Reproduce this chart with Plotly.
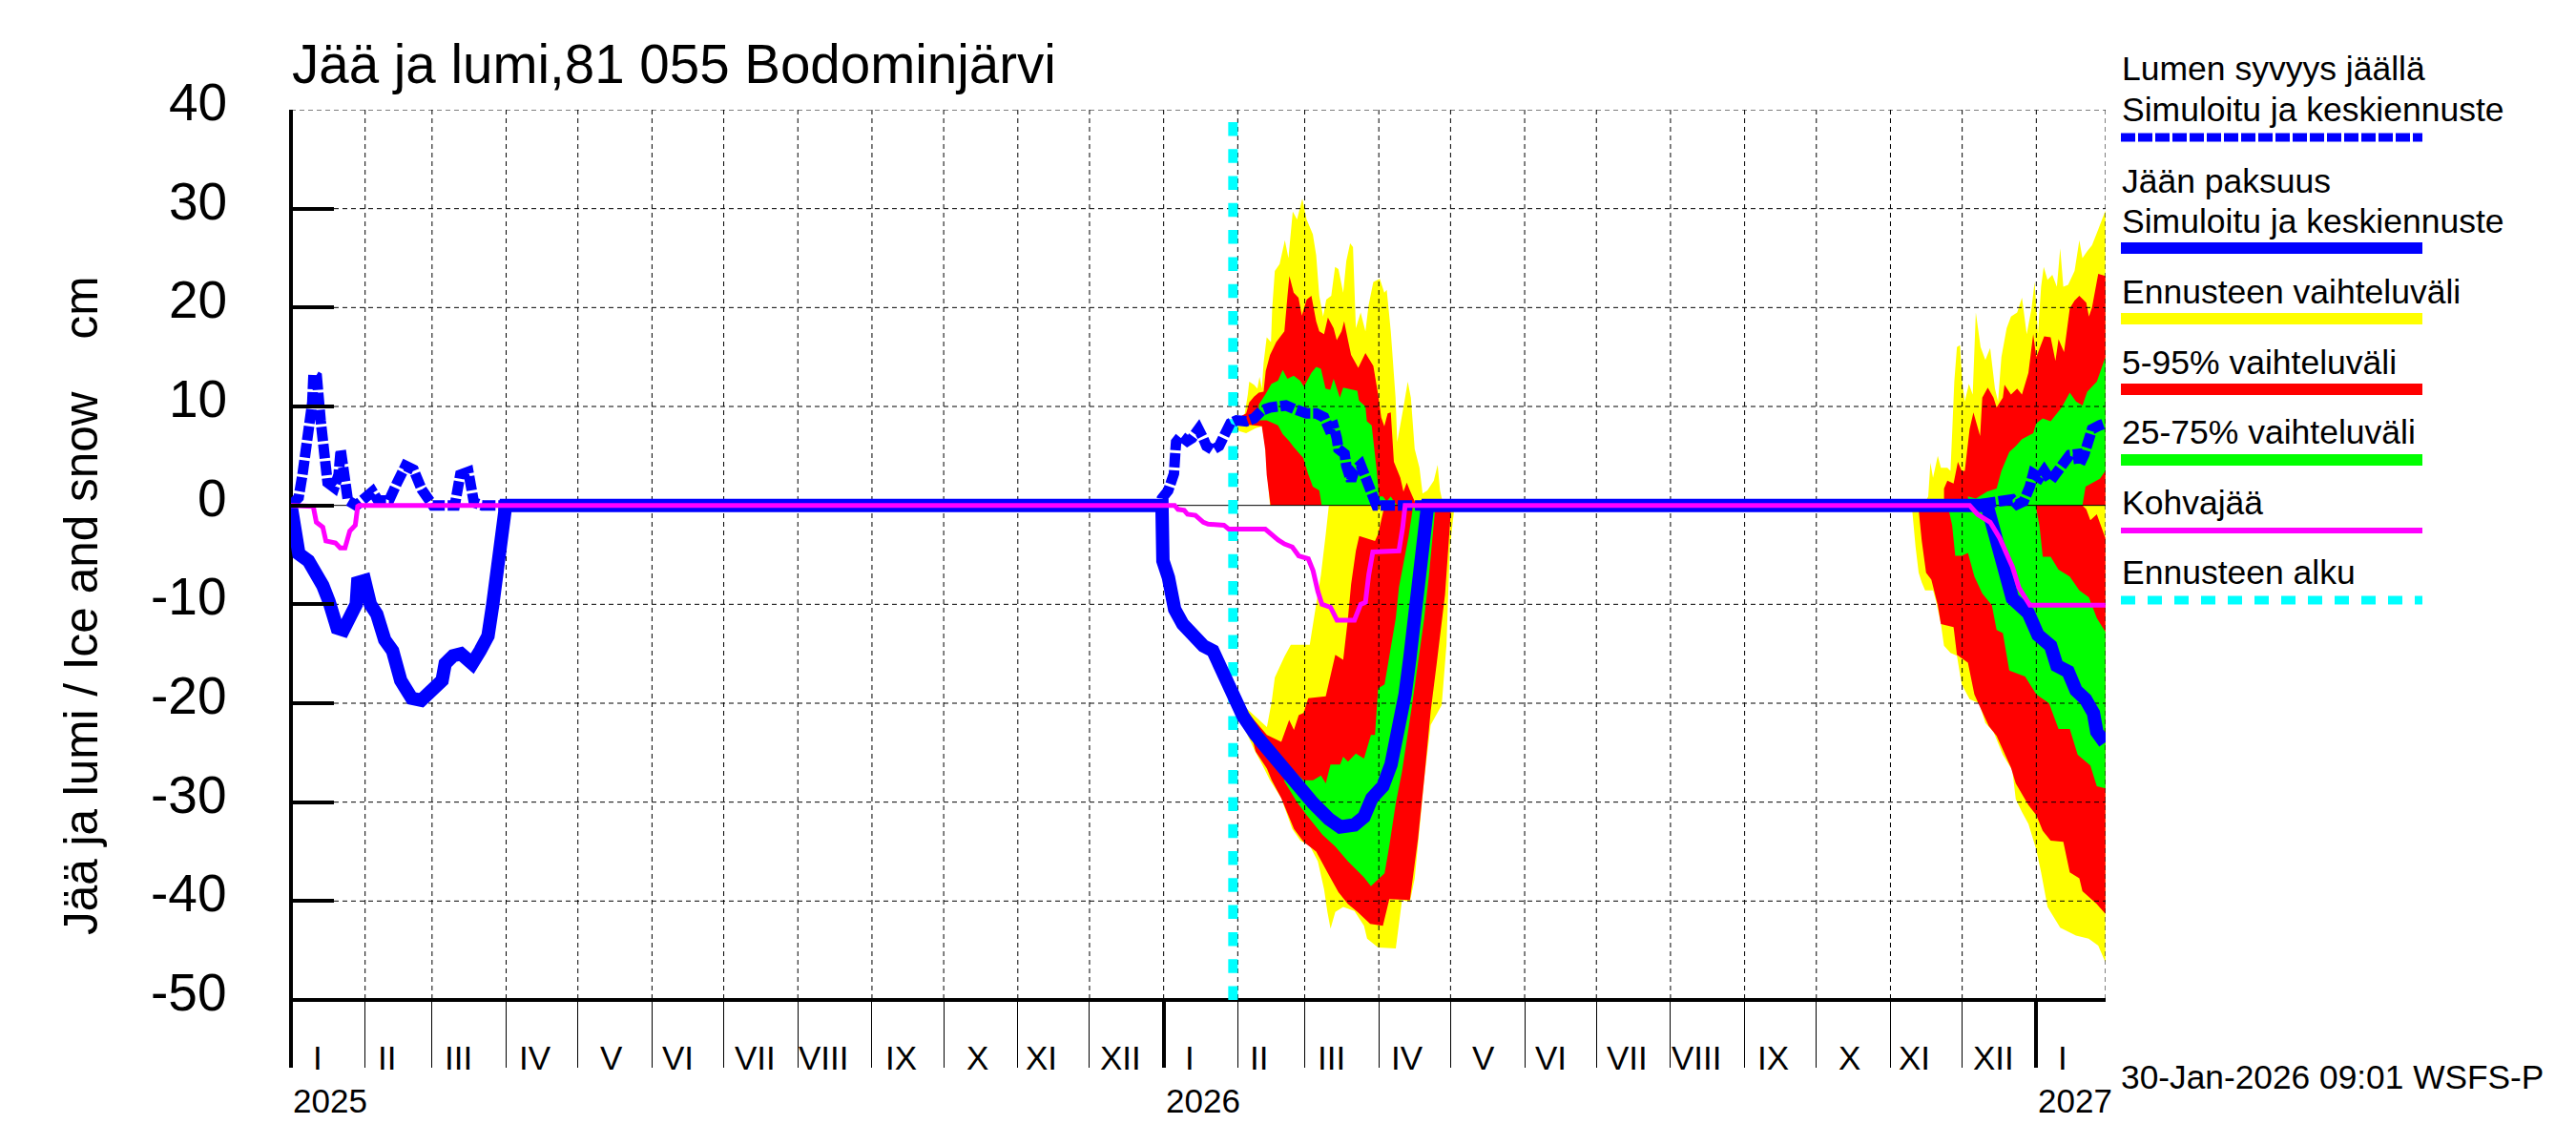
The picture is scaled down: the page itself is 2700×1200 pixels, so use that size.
#!/usr/bin/env python3
"""Jää ja lumi, 81 055 Bodominjärvi: ice and snow forecast chart."""

import pandas as pd
import plotly.graph_objects as go

# every series is a list of (days since 2025-01-01, value in cm)
START = pd.Timestamp('2025-01-01')
END_DAY = 759
FORECAST_DAY = 394

y_ticks = [40, 30, 20, 10, 0, -10, -20, -30, -40, -50]
months = ['I', 'II', 'III', 'IV', 'V', 'VI', 'VII', 'VIII', 'IX', 'X', 'XI', 'XII']
month_label_day = [11, 9, 11, 12, 14, 11, 13, 11, 12, 14, 10, 13]
years = ['2025', '2026', '2027']

snow = [
    (0, 0), (3.2, 0.8), (4.8, 3.1), (6.2, 5.6), (7.8, 7.9), (8.9, 10.4), (9.4, 13.2), (10.8, 13.0),
    (12.4, 8.6), (13.5, 4.9), (15.3, 2.3), (18.1, 1.8), (19.9, 3.1), (20.8, 5.6), (22.2, 3.4), (23.8, 0.5),
    (27.3, 0), (34.1, 1.4), (36.4, 0.5), (41.0, 0.5), (44.4, 2.3), (47.9, 4.0), (51.3, 3.6), (54.7, 1.6),
    (59.3, 0), (68.5, 0), (70.8, 3.1), (74.2, 3.4), (76.5, 0.3), (80, 0), (364, 0),
    (364.3, 0.7), (366.9, 1.5), (369.3, 3.2), (369.8, 5.1), (370.2, 6.4), (372.2, 7.0), (374.9, 6.5),
    (376.9, 6.8), (379.6, 7.7), (381.5, 6.8), (382.9, 6.0), (385.5, 5.6), (388.2, 6.0), (390.2, 7.0),
    (392.9, 8.3), (395.5, 8.6), (399.5, 8.5), (402.8, 8.8), (406.1, 9.6), (409.5, 9.9), (412.8, 9.9),
    (416.1, 10.1), (420.1, 9.7), (424.8, 9.3), (428.8, 9.3), (432.1, 8.9), (434.1, 7.8), (436.1, 8.0),
    (437.4, 6.8), (438.1, 5.7), (440.7, 5.2), (441.4, 4.0), (443.4, 2.5), (444.7, 3.5), (447.4, 4.1),
    (450.0, 2.5), (452.0, 1.2), (452.7, 0.3), (454.0, 0), (702.7, 0),
    (712.1, 0.4), (716.0, 0.4), (720.0, 0.6), (722.0, 0.1), (724.7, 0.4), (727.3, 1.9), (728.7, 3.2),
    (731.3, 2.8), (733.3, 3.5), (736.0, 2.5), (739.3, 3.6), (741.3, 4.6), (744.0, 5.1), (747.3, 5.2),
    (748.0, 4.1), (750.0, 5.1), (752.6, 6.8), (753.3, 7.7), (756.6, 8.1), (759, 8.3),
]

ice = [
    (0, 0), (1.3, -2.6), (3.3, -4.9), (7.3, -5.6), (10.0, -6.5), (13.3, -8.1), (15.9, -9.7), (17.9, -11.0),
    (19.3, -12.4), (21.9, -12.6), (24.6, -11.3), (27.3, -10.0), (27.9, -7.8), (30.8, -7.6), (33.2, -10.0),
    (35.9, -11.0), (39.2, -13.6), (42.5, -14.7), (45.9, -17.7), (50.5, -19.5), (54.5, -19.7), (58.5, -18.7),
    (63.2, -17.7), (64.5, -16.0), (67.8, -15.2), (71.1, -15.0), (75.8, -16.0), (79.1, -14.7), (82.4, -13.2),
    (84.4, -10.0), (86.4, -5.2), (88.4, -0.4), (89.8, 0), (364.3, 0),
    (364.5, -3.9), (364.7, -5.6), (367.0, -7.3), (368.3, -9.3), (369.6, -10.5), (373.0, -12.0), (376.9, -13.2),
    (381.6, -14.2), (385.6, -14.7), (388.9, -16.4), (392.2, -17.8), (395.6, -19.8), (398.2, -21.3),
    (403.5, -23.2), (409.5, -24.9), (414.2, -26.6), (420.8, -28.4), (427.5, -30.1), (434.1, -31.7),
    (438.8, -32.5), (444.8, -32.3), (448.8, -31.5), (452.1, -29.6), (456.7, -28.4), (460.1, -26.2),
    (463.4, -22.9), (466.0, -19.1), (468.0, -15.4), (470.0, -10.7), (472.0, -5.6), (474.0, -1.6), (475.4, 0),
    (709.4, 0), (711.4, -1.7), (713.4, -3.6), (714.7, -4.0), (717.4, -7.5), (720.0, -9.4), (726.7, -10.9),
    (730.7, -13.1), (736.0, -14.2), (738.6, -16.2), (743.3, -16.8), (746.6, -18.7), (750.6, -19.6),
    (753.9, -21.0), (755.3, -22.9), (758.6, -24.0),
]

slush = [
    (0, 0), (9.3, -0.1), (10.6, -1.7), (13.3, -2.2), (14.6, -3.6), (18.6, -3.8), (20.6, -4.3), (22.6, -4.3),
    (24.6, -2.6), (26.9, -2.0), (27.9, -0.1), (28.5, 0), (369.6, 0),
    (371.0, -0.4), (373.6, -0.5), (375.0, -0.9), (378.3, -1.0), (381.6, -1.7), (383.6, -1.9), (390.2, -2.0),
    (392.2, -2.4), (407.5, -2.4), (412.9, -3.5), (415.5, -3.9), (418.8, -4.2), (421.5, -5.1), (425.5, -5.4),
    (427.5, -6.6), (429.5, -8.7), (431.2, -10.0), (434.8, -10.3), (437.5, -11.6), (444.8, -11.6),
    (447.4, -10.0), (449.4, -9.8), (450.8, -7.0), (452.5, -4.7), (463.4, -4.6), (465.0, -2.2), (466.0, 0),
    (702.1, 0), (705.4, -0.9), (710.7, -1.7), (714.7, -3.3), (718.7, -5.5), (720.0, -6.2), (722.7, -8.3),
    (727.3, -10.1), (758.9, -10.1),
]

# snow side of the 2026 forecast
snow26_yellow_hi = [
    (394.2, 8.9), (396.2, 8.9), (398.8, 9.1), (400.2, 11.2), (400.8, 12.5), (402.8, 12.2), (404.2, 11.8),
    (405.1, 13.0), (406.1, 11.8), (406.8, 14.4), (408.1, 17.0), (409.9, 16.5), (410.4, 19.9), (411.5, 23.7),
    (413.5, 24.4), (415.7, 26.8), (417.2, 25.0), (419.0, 29.7), (420.8, 28.9), (423.0, 31.0), (424.8, 28.9),
    (427.4, 27.4), (428.8, 25.3), (430.1, 21.2), (431.7, 19.1), (433.0, 20.8), (435.1, 21.2), (436.7, 24.1),
    (438.1, 23.9), (440.1, 21.5), (441.4, 24.7), (443.0, 26.5), (444.2, 26.1), (445.4, 17.9), (447.4, 19.5),
    (449.4, 17.6), (450.7, 20.2), (452.7, 22.6), (455.4, 22.9), (457.3, 21.5), (458.3, 21.8), (460.0, 17.6),
    (462.0, 10.9), (462.7, 6.4), (465.3, 9.9), (467.1, 12.5), (468.4, 10.9), (470.0, 5.7), (472.0, 3.8),
    (473.3, 1.2), (475.3, 1.5), (478.0, 2.5), (479.6, 4.1), (480.6, 1.5), (482, 0),
]
snow26_yellow_lo = [
    (394.2, 8.1), (396.8, 7.5), (399.5, 7.3), (403.5, 7.8), (406.1, 8.0), (407.5, 6.0), (408.1, 3.8),
    (409.5, 0), (482, 0),
]
snow26_red_hi = [
    (394.2, 8.6), (399.5, 9.3), (400.8, 10.4), (402.8, 11.0), (404.8, 11.4), (406.8, 11.5), (407.7, 13.6),
    (409.5, 15.2), (412.1, 16.5), (413.9, 17.1), (415.5, 17.6), (416.8, 21.2), (417.6, 23.2), (419.4, 21.5),
    (421.4, 21.0), (422.8, 19.2), (424.8, 20.8), (426.8, 21.2), (428.8, 18.6), (430.1, 17.6), (432.1, 17.3),
    (433.7, 19.0), (436.1, 17.9), (437.4, 16.7), (439.4, 17.6), (440.5, 18.6), (442.1, 16.7), (443.4, 15.2),
    (446.4, 13.9), (449.4, 15.4), (452.7, 14.1), (454.7, 11.2), (456.0, 8.9), (457.3, 8.0), (458.7, 9.3),
    (460.0, 9.4), (461.3, 4.4), (464.0, 2.8), (465.3, 1.4), (466.7, 2.3), (468.0, 1.5), (470.0, 0.4), (471.3, 0),
]
snow26_red_lo = [(394.2, 8.3), (406.1, 8.0), (407.5, 5.6), (408.1, 3.1), (409.7, 0), (471.3, 0)]
snow26_green_hi = [
    (404.8, 10.2), (407.5, 11.2), (410.1, 12.3), (412.8, 12.6), (414.8, 13.7), (416.8, 12.8), (419.4, 13.1),
    (422.1, 12.6), (423.7, 12.0), (426.8, 13.4), (428.8, 14.0), (430.8, 13.8), (432.7, 11.8), (434.7, 11.7),
    (436.1, 12.8), (438.7, 10.9), (440.1, 11.9), (446.0, 11.6), (446.7, 10.6), (449.4, 10.0), (450.0, 8.5),
    (452.0, 8.1), (454.0, 3.8), (455.1, 0.9), (456.7, 0.9), (458.3, 0.4), (460.0, 0.9), (461.3, 0.4), (462.7, 0),
]
snow26_green_lo = [
    (404.8, 8.6), (408.1, 8.6), (412.8, 8.1), (414.8, 7.2), (417.5, 6.5), (419.4, 5.9), (423.4, 4.8),
    (425.4, 3.2), (427.4, 1.9), (430.1, 1.5), (431.1, 0), (462.7, 0),
]

# ice side of the 2026 forecast
ice26_yellow_hi = [
    (398.2, -20.2), (408.2, -22.4), (410.2, -19.8), (411.5, -17.4), (415.5, -15.3), (418.2, -14.1),
    (426.1, -14.1), (428.8, -10.0), (430.8, -7.0), (432.8, -2.9), (434.1, 0), (486.7, 0),
]
ice26_yellow_lo = [
    (396.2, -21.5), (399.5, -22.9), (402.9, -24.7), (406.2, -26.2), (409.5, -27.8), (414.2, -29.6),
    (418.8, -32.7), (422.2, -33.9), (426.1, -34.4), (429.5, -36.0), (432.1, -38.8), (433.5, -41.1),
    (434.8, -42.8), (436.8, -41.1), (440.1, -40.6), (444.8, -41.0), (448.8, -42.5), (450.1, -43.8),
    (454.7, -44.7), (462.1, -44.8), (464.7, -39.9), (468.0, -40.1), (470.0, -37.7), (472.0, -32.7),
    (474.0, -27.6), (476.7, -22.2), (481.3, -20.2), (483.3, -14.1), (484.7, -4.3), (486.7, 0),
]
ice26_red_hi = [
    (399.6, -20.8), (408.2, -23.2), (414.2, -23.9), (417.5, -21.7), (419.5, -22.7), (421.5, -21.2),
    (423.5, -21.0), (425.5, -19.5), (432.8, -19.3), (436.8, -15.1), (440.1, -15.6), (442.1, -11.4),
    (443.4, -8.0), (445.4, -4.6), (446.8, -3.1), (453.4, -3.6), (454.7, -2.9), (457.4, 0), (485.3, 0),
]
ice26_red_lo = [
    (399.6, -21.3), (403.5, -24.9), (408.2, -26.6), (410.2, -27.8), (414.2, -29.6), (419.5, -32.7),
    (423.5, -34.0), (428.8, -35.0), (433.5, -37.1), (438.1, -39.1), (442.1, -40.3), (446.1, -41.1),
    (451.4, -42.3), (456.7, -42.5), (459.4, -39.8), (468.0, -39.9), (471.4, -33.7), (474.0, -27.6),
    (476.7, -20.8), (479.3, -15.8), (482.7, -9.0), (485.3, 0),
]
ice26_green_hi = [
    (415.5, -25.9), (423.5, -27.8), (427.5, -27.8), (430.8, -27.3), (432.8, -28.1), (434.8, -26.2),
    (438.8, -26.2), (440.1, -25.4), (442.1, -25.9), (445.4, -25.1), (448.8, -25.6), (451.7, -23.2),
    (453.4, -23.2), (454.7, -18.5), (457.4, -18.1), (462.1, -11.4), (463.4, -8.3), (467.4, -3.2),
    (469.4, 0), (478.7, 0),
]
ice26_green_lo = [
    (415.5, -27.9), (420.8, -30.0), (424.8, -31.3), (431.5, -33.3), (436.8, -34.5), (442.1, -36.0),
    (448.8, -37.6), (451.7, -38.5), (457.4, -37.2), (459.4, -34.4), (462.1, -30.1), (464.7, -26.9),
    (468.7, -20.5), (470.7, -17.1), (474.0, -11.4), (476.0, -7.0), (478.7, 0),
]

# snow side of the 2027 forecast
snow27_yellow_hi = [
    (682.8, 0), (684.8, 0.9), (685.7, 4.3), (686.8, 2.8), (688.8, 5.0), (690.1, 3.8), (692.8, 3.8), (694.1, 3.5),
    (694.8, 7.3), (695.7, 12.5), (696.8, 16.0), (698.1, 16.2), (699.0, 12.5), (700.1, 10.5), (701.8, 12.3),
    (703.4, 11.2), (704.7, 19.5), (706.7, 16.0), (708.7, 14.7), (710.7, 15.9), (712.7, 11.8), (714.0, 10.5),
    (715.4, 15.0), (717.6, 17.9), (719.4, 19.1), (722.0, 19.5), (724.0, 21.0), (726.0, 17.3), (728.0, 19.9),
    (729.3, 22.6), (730.7, 17.3), (732.0, 22.1), (733.1, 24.1), (734.7, 22.8), (736.7, 23.3), (738.6, 22.1),
    (740.0, 26.0), (741.3, 22.1), (743.3, 22.3), (746.0, 23.7), (748.0, 26.8), (749.3, 25.0), (751.3, 25.7),
    (753.3, 26.3), (755.9, 27.9), (758.9, 29.8),
]
snow27_yellow_lo = [(682.8, 0), (758.9, 0)]
snow27_red_hi = [
    (691.4, 0), (691.4, 1.7), (692.8, 2.5), (695.4, 2.2), (697.2, 4.4), (698.8, 3.5), (700.1, 3.5), (702.1, 7.7),
    (703.7, 9.4), (706.5, 7.0), (707.4, 10.9), (709.7, 11.9), (712.1, 10.9), (713.4, 9.9), (716.0, 10.9),
    (716.7, 12.2), (719.4, 11.2), (722.0, 11.8), (724.0, 11.2), (726.7, 13.4), (728.7, 17.3), (730.0, 15.0),
    (733.3, 17.1), (736.0, 17.0), (738.0, 14.6), (739.3, 16.8), (741.6, 15.5), (744.0, 19.9), (746.0, 20.7),
    (748.0, 21.2), (750.9, 20.5), (752.0, 19.1), (753.3, 20.0), (755.9, 23.4), (758.9, 23.2),
]
snow27_red_lo = [(691.4, 0), (758.9, 0)]
snow27_green_hi = [
    (701.4, 0), (701.4, 0.9), (704.7, 0.7), (709.4, 1.4), (713.4, 1.7), (715.4, 3.5), (718.7, 5.4), (721.4, 6.0),
    (724.0, 6.7), (728.7, 7.3), (730.0, 8.3), (732.7, 8.8), (736.0, 8.5), (740.6, 9.9), (744.0, 11.4),
    (746.6, 10.5), (749.3, 10.1), (751.3, 11.5), (755.3, 12.5), (758.9, 15.0),
]
snow27_green_lo = [(701.4, 0), (749.3, 0), (750.6, 1.9), (756.6, 2.7), (758.9, 3.5)]

# ice side of the 2027 forecast
ice27_yellow_hi = [(678.1, 0), (758.9, 0)]
ice27_yellow_lo = [
    (678.1, -0.5), (679.5, -4.2), (680.8, -6.8), (682.1, -7.8), (683.5, -8.6), (686.8, -8.6), (688.1, -9.7),
    (690.1, -12.0), (691.4, -14.2), (694.1, -14.9), (696.8, -15.2), (698.8, -18.1), (702.1, -19.6),
    (706.1, -20.0), (708.7, -22.0), (712.1, -22.9), (716.0, -25.2), (720.0, -26.8), (721.4, -29.7),
    (724.0, -31.0), (726.7, -32.2), (730.0, -34.8), (732.0, -37.1), (734.7, -40.6), (740.0, -42.7),
    (746.6, -43.5), (751.9, -43.8), (755.9, -44.5), (758.9, -46.2),
]
ice27_red_hi = [(680.8, 0), (749.3, 0), (750.9, -0.4), (752.6, -1.5), (755.3, -0.9), (758.9, -3.3)]
ice27_red_lo = [
    (680.8, -0.5), (682.1, -3.6), (683.9, -6.8), (686.1, -7.5), (688.8, -10.1), (690.1, -12.0), (695.4, -12.3),
    (696.8, -15.1), (701.4, -15.9), (704.1, -19.1), (706.1, -20.2), (710.1, -22.3), (713.4, -23.3),
    (719.4, -26.5), (721.4, -28.1), (726.7, -30.3), (730.0, -31.3), (732.7, -32.9), (736.0, -33.9),
    (741.3, -34.0), (744.0, -37.1), (748.0, -37.7), (749.3, -39.0), (755.3, -40.3), (758.9, -41.3),
]
ice27_green_hi = [
    (693.4, 0), (729.7, 0), (731.3, -2.0), (732.7, -5.2), (736.0, -5.2), (739.3, -6.5), (744.0, -7.2),
    (748.0, -8.6), (752.0, -9.3), (755.3, -11.4), (758.9, -12.8),
]
ice27_green_lo = [
    (693.4, -0.5), (694.8, -2.0), (696.1, -5.1), (698.8, -5.1), (701.4, -4.8), (704.1, -7.2), (707.4, -8.9),
    (711.4, -10.1), (713.4, -12.6), (716.0, -12.9), (718.7, -16.7), (725.3, -17.3), (730.0, -19.1),
    (735.3, -20.0), (739.3, -22.6), (744.0, -22.6), (747.3, -25.2), (752.6, -26.3), (755.3, -28.4),
    (758.9, -28.6),
]

YELLOW = '#ffff00'
RED = '#ff0000'
GREEN = '#00ff00'
BLUE = '#0000ff'
MAGENTA = '#ff00ff'
CYAN = '#00ffff'

W, H = 2700, 1200
LEFT, RIGHT, TOP, BOTTOM = 305, 2207, 115, 1048


def to_date(day):
    return START + pd.to_timedelta(day, unit='D')


def xs(points):
    return [to_date(p[0]) for p in points]


def ys(points):
    return [p[1] for p in points]


def py(y):
    # paper fraction of a pixel row, the plot area being the paper
    return (BOTTOM - y) / (BOTTOM - TOP)


def pxp(x):
    return (x - LEFT) / (RIGHT - LEFT)


fig = go.Figure()


def add_band(upper, lower, color, name):
    outline = upper + lower[::-1]
    fig.add_trace(go.Scatter(
        x=xs(outline), y=ys(outline), mode='none', fill='toself',
        fillcolor=color, name=name, hoverinfo='skip',
    ))


# yellow first, green last, so the narrower bands lie on top
add_band(snow26_yellow_hi, snow26_yellow_lo, YELLOW, 'Ennusteen vaihteluväli')
add_band(ice26_yellow_hi, ice26_yellow_lo, YELLOW, 'Ennusteen vaihteluväli')
add_band(snow27_yellow_hi, snow27_yellow_lo, YELLOW, 'Ennusteen vaihteluväli')
add_band(ice27_yellow_hi, ice27_yellow_lo, YELLOW, 'Ennusteen vaihteluväli')
add_band(snow26_red_hi, snow26_red_lo, RED, '5-95% vaihteluväli')
add_band(ice26_red_hi, ice26_red_lo, RED, '5-95% vaihteluväli')
add_band(snow27_red_hi, snow27_red_lo, RED, '5-95% vaihteluväli')
add_band(ice27_red_hi, ice27_red_lo, RED, '5-95% vaihteluväli')
add_band(snow26_green_hi, snow26_green_lo, GREEN, '25-75% vaihteluväli')
add_band(ice26_green_hi, ice26_green_lo, GREEN, '25-75% vaihteluväli')
add_band(snow27_green_hi, snow27_green_lo, GREEN, '25-75% vaihteluväli')
add_band(ice27_green_hi, ice27_green_lo, GREEN, '25-75% vaihteluväli')

# the grid has to lie over the bands and under the lines, so it is a trace here
month_starts = list(pd.date_range('2025-02-01', '2027-01-01', freq='MS')) + [to_date(END_DAY)]
grid_x, grid_y = [], []
for m in month_starts:
    grid_x += [m, m, None]
    grid_y += [y_ticks[0], y_ticks[-1], None]
for t in y_ticks[:-1]:
    if t != 0:
        grid_x += [to_date(0), to_date(END_DAY), None]
        grid_y += [t, t, None]
fig.add_trace(go.Scatter(
    x=grid_x, y=grid_y, mode='lines', cliponaxis=False, hoverinfo='skip',
    line=dict(color='black', width=1, dash='5px,4px'),
))
fig.add_trace(go.Scatter(
    x=[to_date(0), to_date(END_DAY)], y=[0, 0], mode='lines', hoverinfo='skip',
    line=dict(color='black', width=1),
))

fig.add_trace(go.Scatter(
    x=[to_date(FORECAST_DAY)] * 2, y=[-50, 38.9], mode='lines', name='Ennusteen alku', hoverinfo='skip',
    line=dict(color=CYAN, width=10, dash='14.5px,13.8px'),
))
fig.add_trace(go.Scatter(
    x=xs(snow), y=ys(snow), mode='lines', cliponaxis=False, name='Lumen syvyys jäällä',
    line=dict(color=BLUE, width=11, dash='15px,3px'),
))
fig.add_trace(go.Scatter(
    x=xs(ice), y=ys(ice), mode='lines', cliponaxis=False, name='Jään paksuus',
    line=dict(color=BLUE, width=14),
))
fig.add_trace(go.Scatter(
    x=xs(slush), y=ys(slush), mode='lines', cliponaxis=False, name='Kohvajää',
    line=dict(color=MAGENTA, width=5),
))

# axis lines as shapes: plotly would set them outside the plot area and push the ticks down
fig.add_shape(
    type='line', xref='paper', yref='paper', layer='below',
    x0=0, x1=0, y0=py(1118), y1=1, line=dict(color='black', width=4),
)
fig.add_shape(
    type='line', xref='paper', yref='paper', layer='below',
    x0=0, x1=1, y0=0, y1=0, line=dict(color='black', width=4),
)

# legend, drawn by hand at the right of the plot
legend_lines = [
    (144, 9, BLUE, '15px,3px'),
    (260, 12, BLUE, 'solid'),
    (334, 12, YELLOW, 'solid'),
    (408, 12, RED, 'solid'),
    (482, 12, GREEN, 'solid'),
    (556, 6, MAGENTA, 'solid'),
    (629, 9, CYAN, '15px,13px'),
]
for row, width, color, dash in legend_lines:
    fig.add_shape(
        type='line', xref='paper', yref='paper',
        x0=pxp(2223), x1=pxp(2539), y0=py(row), y1=py(row),
        line=dict(color=color, width=width, dash=dash),
    )

legend_text = [
    (72, 'Lumen syvyys jäällä'),
    (115, 'Simuloitu ja keskiennuste'),
    (190, 'Jään paksuus'),
    (232, 'Simuloitu ja keskiennuste'),
    (306, 'Ennusteen vaihteluväli'),
    (380, '5-95% vaihteluväli'),
    (453, '25-75% vaihteluväli'),
    (527, 'Kohvajää'),
    (600, 'Ennusteen alku'),
]
for row, text in legend_text:
    fig.add_annotation(
        text=text, xref='paper', yref='paper', x=pxp(2222), y=py(row),
        xanchor='left', yanchor='middle', showarrow=False, font=dict(size=35.5),
    )

# y tick labels sit a little above their ticks, which an axis cannot do
for t in y_ticks:
    fig.add_annotation(
        text=str(t), xref='paper', yref='y', x=pxp(240), y=t, yshift=8,
        xanchor='right', yanchor='middle', showarrow=False, font=dict(size=55),
    )

# roman month names and years under the axis
for year in years:
    n_months = 1 if year == '2027' else 12
    for m in range(n_months):
        label_x = pd.Timestamp(int(year), m + 1, 1) + pd.Timedelta(days=month_label_day[m])
        fig.add_annotation(
            text=months[m], xref='x', yref='paper', x=label_x, y=py(1108),
            xanchor='center', yanchor='middle', showarrow=False, font=dict(size=35),
        )
    fig.add_annotation(
        text=year, xref='x', yref='paper', x=pd.Timestamp(int(year), 1, 1), y=py(1153),
        xanchor='left', yanchor='middle', showarrow=False, font=dict(size=35),
    )

fig.add_annotation(
    text='30-Jan-2026 09:01 WSFS-P', xref='paper', yref='paper', x=pxp(2221), y=py(1128),
    xanchor='left', yanchor='middle', showarrow=False, font=dict(size=35.3),
)
fig.add_annotation(
    text='Jää ja lumi / Ice and snow\u00a0\u00a0\u00a0\u00a0cm', xref='paper', yref='paper',
    x=pxp(84), y=py(635), textangle=-90,
    xanchor='center', yanchor='middle', showarrow=False, font=dict(size=49.5),
)

x_range = [to_date(0), to_date(END_DAY)]
fig.update_layout(
    width=W, height=H,
    margin=dict(l=LEFT, r=W - RIGHT, t=TOP, b=H - BOTTOM, pad=0),
    paper_bgcolor='white', plot_bgcolor='white',
    showlegend=False,
    font=dict(family='Liberation Sans', color='black'),
    title=dict(
        text='Jää ja lumi,81 055 Bodominjärvi', font=dict(size=56.5),
        x=306 / W, xanchor='left', y=1 - 67 / H, yanchor='middle',
    ),
    xaxis=dict(
        type='date', range=x_range, showgrid=False, zeroline=False, showline=False,
        ticks='outside', ticklen=70, tickwidth=1, tickcolor='black',
        tick0='2025-01-01', dtick='M1', showticklabels=False,
    ),
    xaxis2=dict(
        type='date', range=x_range, overlaying='x', anchor='y', side='bottom',
        showgrid=False, zeroline=False, showline=False,
        ticks='outside', ticklen=70, tickwidth=4, tickcolor='black',
        tick0='2025-01-01', dtick='M12', showticklabels=False,
    ),
    yaxis=dict(
        range=[-50, 40], tickmode='array', tickvals=y_ticks, showticklabels=False,
        showgrid=False, zeroline=False, showline=False,
        ticks='inside', ticklen=45, tickwidth=4, tickcolor='black',
    ),
)
# the overlaid axis needs a trace of its own to be drawn
fig.add_trace(go.Scatter(x=x_range, y=[None, None], xaxis='x2', mode='lines', hoverinfo='skip'))

fig.write_html(
    'out.html',
    post_script="document.body.style.margin='0';",
    config=dict(displayModeBar=False),
)
